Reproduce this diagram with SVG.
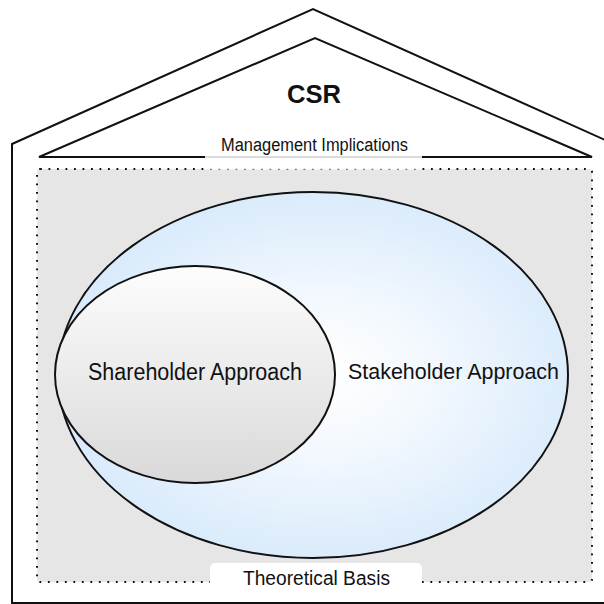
<svg xmlns="http://www.w3.org/2000/svg" width="604" height="604" viewBox="0 0 604 604">
  <defs>
    <radialGradient id="gBlue" cx="0.52" cy="0.5" r="0.55">
      <stop offset="0" stop-color="#ffffff"/>
      <stop offset="0.35" stop-color="#f4f9fe"/>
      <stop offset="1" stop-color="#d6e9fb"/>
    </radialGradient>
    <linearGradient id="gGrey" x1="0" y1="0" x2="0" y2="1">
      <stop offset="0" stop-color="#fdfdfd"/>
      <stop offset="1" stop-color="#d9d9d9"/>
    </linearGradient>
    <style>
      .ln { fill: none; stroke: #111; stroke-width: 2; stroke-linejoin: miter; }
      .lbl { font-family: "Liberation Sans", Arial, sans-serif; fill: #111; text-anchor: middle; }
      .ell { stroke: #111; stroke-width: 2; }
    </style>
  </defs>

  <g id="house">
    <path d="M12,603 L12,144 L313,9 L614,144 L614,603 Z" fill="#ffffff" stroke="#111" stroke-width="2"/>
  </g>

  <g id="roof">
    <path class="ln" d="M39,157 L315,38 L592,157 Z"/>
    <text class="lbl" x="314" y="103" font-size="25" font-weight="bold" textLength="54" lengthAdjust="spacingAndGlyphs">CSR</text>
  </g>

  <g id="theoretical-basis-area">
    <rect x="37" y="169" width="555" height="413" rx="3" fill="#e6e6e6" stroke="#111" stroke-width="2" stroke-dasharray="1.8 6.7"/>
  </g>

  <g id="management-implications">
    <rect x="205" y="127" width="217" height="42.5" fill="#ffffff" fill-opacity="0.85"/>
    <text class="lbl" x="314.5" y="151" font-size="18" textLength="187" lengthAdjust="spacingAndGlyphs">Management Implications</text>
  </g>

  <g id="stakeholder">
    <ellipse class="ell" cx="313" cy="375" rx="255" ry="183" fill="url(#gBlue)"/>
    <text class="lbl" x="453.5" y="379" font-size="22.5" textLength="211" lengthAdjust="spacingAndGlyphs">Stakeholder Approach</text>
  </g>

  <g id="shareholder">
    <ellipse class="ell" cx="195" cy="374.5" rx="140" ry="108.5" fill="url(#gGrey)"/>
    <text class="lbl" x="195" y="380" font-size="23" textLength="214" lengthAdjust="spacingAndGlyphs">Shareholder Approach</text>
  </g>

  <g id="theoretical-basis">
    <rect x="210" y="563" width="212" height="34" rx="5" fill="#ffffff"/>
    <text class="lbl" x="316.5" y="585" font-size="19.5" textLength="147" lengthAdjust="spacingAndGlyphs">Theoretical Basis</text>
  </g>

  <g id="connectors"></g>
</svg>
